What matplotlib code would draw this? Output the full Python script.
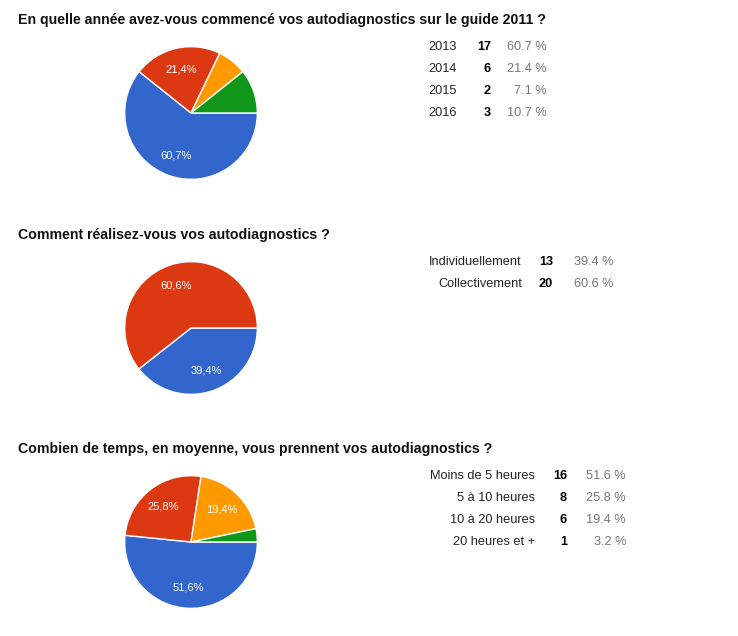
import matplotlib

matplotlib.use("Agg")
import matplotlib.pyplot as plt

plt.rcParams["font.family"] = ["Liberation Sans", "DejaVu Sans"]

W, H = 738, 636

# question 1
q1_title = "En quelle année avez-vous commencé vos autodiagnostics sur le guide 2011 ?"
q1_labels = ["2013", "2014", "2015", "2016"]
q1_counts = [17, 6, 2, 3]

# question 2
q2_title = "Comment réalisez-vous vos autodiagnostics ?"
q2_labels = ["Individuellement", "Collectivement"]
q2_counts = [13, 20]

# question 3
q3_title = "Combien de temps, en moyenne, vous prennent vos autodiagnostics ?"
q3_labels = ["Moins de 5 heures", "5 à 10 heures", "10 à 20 heures", "20 heures et +"]
q3_counts = [16, 8, 6, 1]

COLORS = ["#3366CC", "#DC3912", "#FF9900", "#109618"]


def fx(x):
    return x / W


def fy(y):
    return 1 - y / H


def pct_label(p):
    # google hides labels for thin slices
    if p < 15:
        return ""
    return f"{p:.1f}%".replace(".", ",")


def draw_question(fig, title, labels, counts, top, cols):
    fig.text(fx(18), fy(top), title, fontsize=10.2, fontweight="bold",
             color="#111111", va="center", ha="left")

    cy = top + 93
    r = 67
    ax = fig.add_axes([fx(191 - r), fy(cy + r), 2 * r / W, 2 * r / H])
    ax.pie(
        counts,
        colors=COLORS[: len(counts)],
        startangle=0,
        counterclock=False,
        autopct=pct_label,
        pctdistance=0.68,
        wedgeprops={"edgecolor": "white", "linewidth": 1.0},
        textprops={"color": "white", "fontsize": 8},
    )
    ax.set_xlim(-1.01, 1.01)
    ax.set_ylim(-1.01, 1.01)
    ax.set_aspect("auto")
    ax.set_axis_off()

    total = sum(counts)
    x_label, x_count, x_pct = cols
    for i, (lab, n) in enumerate(zip(labels, counts)):
        y = top + 27 + 22 * i
        fig.text(fx(x_label), fy(y), lab, fontsize=9.2, color="#222222",
                 ha="right", va="center")
        fig.text(fx(x_count), fy(y), str(n), fontsize=9.2, color="#000000",
                 fontweight="bold", ha="right", va="center")
        fig.text(fx(x_pct), fy(y), f"{100 * n / total:.1f} %", fontsize=9.2,
                 color="#777777", ha="right", va="center")


fig = plt.figure(figsize=(W / 100, H / 100), dpi=100)
fig.patch.set_facecolor("white")

draw_question(fig, q1_title, q1_labels, q1_counts, 20, (457, 491, 547))
draw_question(fig, q2_title, q2_labels, q2_counts, 235, (522, 553, 613))
draw_question(fig, q3_title, q3_labels, q3_counts, 449, (535, 567, 626))

fig.savefig("out.png", dpi=100)
